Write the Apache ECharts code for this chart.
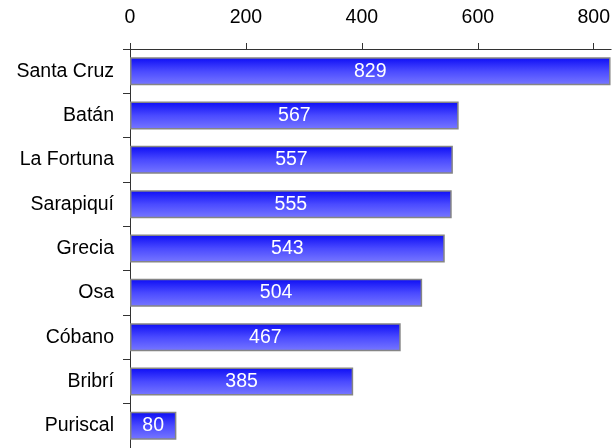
<!DOCTYPE html>
<html><head><meta charset="utf-8">
<script src="https://cdn.jsdelivr.net/npm/echarts@6/dist/echarts.min.js"></script>
<style>html,body{margin:0;padding:0;background:#fff}#c{width:613px;height:448px}</style>
</head><body><div id="c"></div>
<script>
const categories = ['Santa Cruz','Batán','La Fortuna','Sarapiquí','Grecia','Osa','Cóbano','Bribrí','Puriscal'];
const values = [829,567,557,555,543,504,467,385,80];
const tickValues = [0,200,400,600,800];

const FONT = 'Liberation Sans, Arial, sans-serif';
const chart = echarts.init(document.getElementById('c'));
chart.setOption({
  animation:false,
  grid:{left:130,right:1,top:49,bottom:-1,containLabel:false},
  xAxis:{type:'value',position:'top',min:0,max:830,interval:200,
    axisLine:{show:true,lineStyle:{color:'#333',width:1}},
    axisTick:{show:true,length:6,lineStyle:{color:'#333'}},
    splitLine:{show:false},
    axisLabel:{showMaxLabel:false,color:'#000',fontSize:19.5,fontFamily:FONT,margin:21,
      formatter:v=>tickValues.includes(v)?String(v):''}},
  yAxis:{type:'category',data:categories,inverse:true,
    axisLine:{show:true,lineStyle:{color:'#333',width:1}},
    axisTick:{show:true,length:7,lineStyle:{color:'#333'}},
    axisLabel:{color:'#000',fontSize:19.5,fontFamily:FONT,margin:16}},
  series:[{type:'bar',data:values,barCategoryGap:'37%',
    itemStyle:{borderColor:'#858585',borderWidth:1.5,
      color:new echarts.graphic.LinearGradient(0,0,0,1,[{offset:0,color:'#0c0cf5'},{offset:0.5,color:'#4a4aff'},{offset:1,color:'#7878ff'}])},
    label:{show:true,position:'inside',color:'#fff',fontSize:19.5,fontFamily:FONT}}]
});
</script></body></html>
